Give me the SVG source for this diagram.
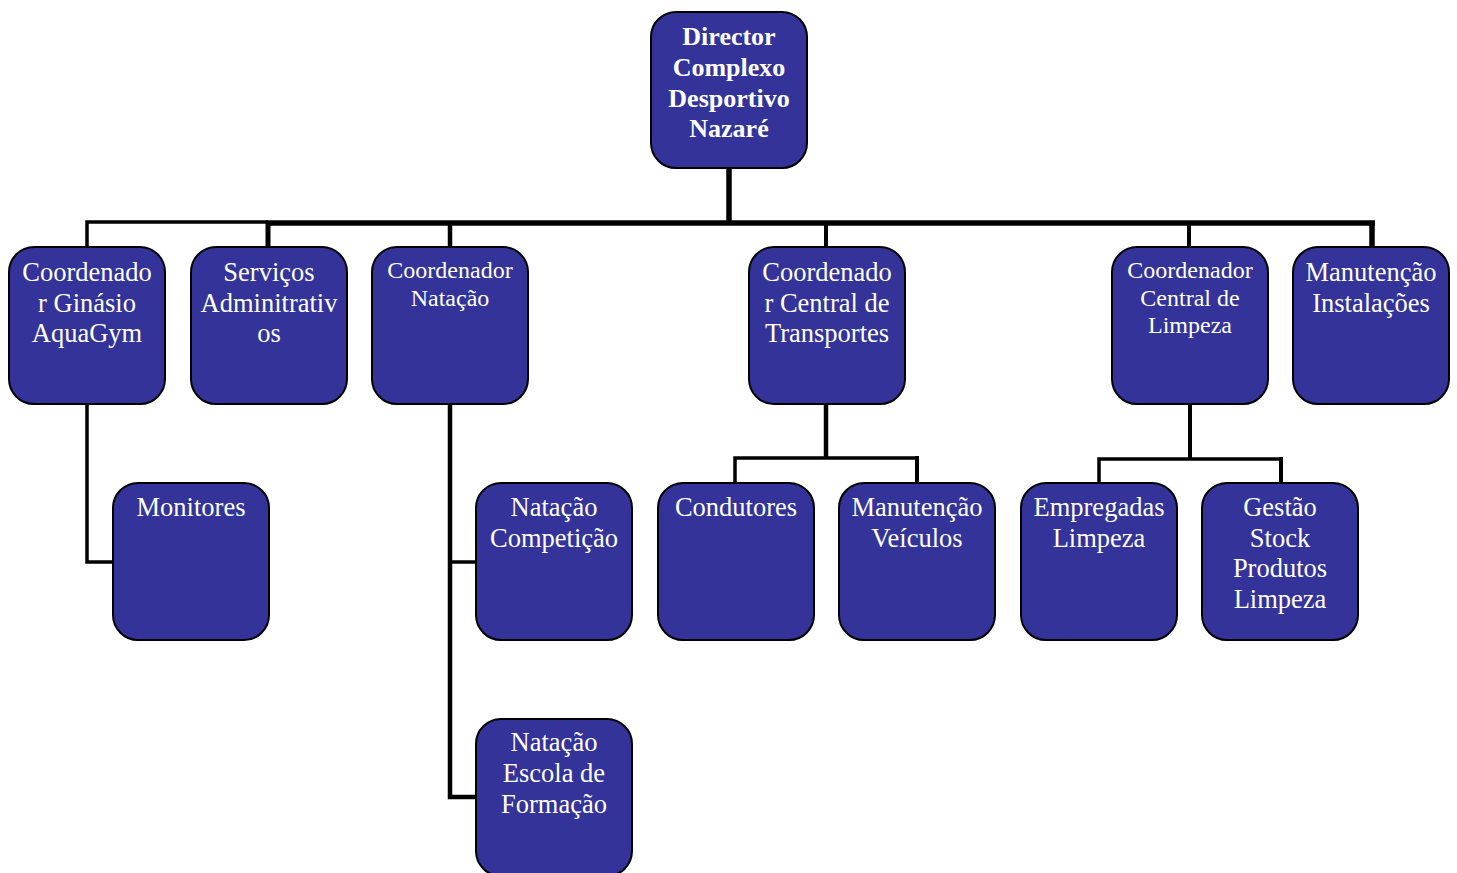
<svg xmlns="http://www.w3.org/2000/svg" width="1457" height="873" viewBox="0 0 1457 873">
<style>
.box{fill:#333399;stroke:#000;stroke-width:2}
.t{font-family:"Liberation Serif","Times New Roman",serif;font-size:26.5px;fill:#fff;text-anchor:middle}
.s{font-size:24px}
.b{font-weight:bold;font-size:26px}
.c{fill:none;stroke:#000;stroke-linejoin:miter;stroke-linecap:butt}
</style>
<rect width="1457" height="873" fill="#fff"/>
<g id="connectors">
<path class="c" stroke-width="5.5" d="M729 168 V223"/>
<path class="c" stroke-width="5.5" d="M266 223 H1375"/>
<path class="c" stroke-width="3.5" d="M87 247 V222 H268"/>
<path class="c" stroke-width="5" d="M268 223 V247"/>
<path class="c" stroke-width="4.5" d="M450 223 V247"/>
<path class="c" stroke-width="4" d="M826 223 V247"/>
<path class="c" stroke-width="4" d="M1189 223 V247"/>
<path class="c" stroke-width="5.5" d="M1372 221 V247"/>
<path class="c" stroke-width="3.5" d="M87 404 V562 H113"/>
<path class="c" stroke-width="4.5" d="M450 404 V797 H476"/>
<path class="c" stroke-width="3.5" d="M450 562 H476"/>
<path class="c" stroke-width="4.5" d="M826 404 V458"/>
<path class="c" stroke-width="3.5" d="M735 483 V458 H917"/>
<path class="c" stroke-width="4" d="M917 456 V483"/>
<path class="c" stroke-width="4" d="M1190 404 V459"/>
<path class="c" stroke-width="3.5" d="M1099 483 V459 H1281"/>
<path class="c" stroke-width="4" d="M1281 457 V483"/>
</g>
<g id="director">
<rect class="box" x="651" y="12" width="156" height="156" rx="25"/>
<text class="t b" x="729" y="45">Director</text>
<text class="t b" x="729" y="76">Complexo</text>
<text class="t b" x="729" y="106.5">Desportivo</text>
<text class="t b" x="729" y="137">Nazaré</text>
</g>
<g id="ginasio">
<rect class="box" x="9" y="247" width="156" height="157" rx="25"/>
<text class="t" x="87" y="281">Coordenado</text>
<text class="t" x="87" y="311.5">r Ginásio</text>
<text class="t" x="87" y="342">AquaGym</text>
</g>
<g id="servicos">
<rect class="box" x="191" y="247" width="156" height="157" rx="25"/>
<text class="t" x="269" y="281">Serviços</text>
<text class="t" x="269" y="311.5">Adminitrativ</text>
<text class="t" x="269" y="342">os</text>
</g>
<g id="natacao">
<rect class="box" x="372" y="247" width="156" height="157" rx="25"/>
<text class="t s" x="450" y="278">Coordenador</text>
<text class="t s" x="450" y="306">Natação</text>
</g>
<g id="transportes">
<rect class="box" x="749" y="247" width="156" height="157" rx="25"/>
<text class="t" x="827" y="281">Coordenado</text>
<text class="t" x="827" y="311.5">r Central de</text>
<text class="t" x="827" y="342">Transportes</text>
</g>
<g id="limpeza">
<rect class="box" x="1112" y="247" width="156" height="157" rx="25"/>
<text class="t s" x="1190" y="278">Coordenador</text>
<text class="t s" x="1190" y="305.5">Central de</text>
<text class="t s" x="1190" y="333">Limpeza</text>
</g>
<g id="manutencao">
<rect class="box" x="1293" y="247" width="156" height="157" rx="25"/>
<text class="t" x="1371" y="281">Manutenção</text>
<text class="t" x="1371" y="311.5">Instalações</text>
</g>
<g id="monitores">
<rect class="box" x="113" y="483" width="156" height="157" rx="25"/>
<text class="t" x="191" y="516">Monitores</text>
</g>
<g id="competicao">
<rect class="box" x="476" y="483" width="156" height="157" rx="25"/>
<text class="t" x="554" y="516">Natação</text>
<text class="t" x="554" y="546.5">Competição</text>
</g>
<g id="escola">
<rect class="box" x="476" y="719" width="156" height="157" rx="25"/>
<text class="t" x="554" y="751">Natação</text>
<text class="t" x="554" y="782">Escola de</text>
<text class="t" x="554" y="812.5">Formação</text>
</g>
<g id="condutores">
<rect class="box" x="658" y="483" width="156" height="157" rx="25"/>
<text class="t" x="736" y="516">Condutores</text>
</g>
<g id="veiculos">
<rect class="box" x="839" y="483" width="156" height="157" rx="25"/>
<text class="t" x="917" y="516">Manutenção</text>
<text class="t" x="917" y="546.5">Veículos</text>
</g>
<g id="empregadas">
<rect class="box" x="1021" y="483" width="156" height="157" rx="25"/>
<text class="t" x="1099" y="516">Empregadas</text>
<text class="t" x="1099" y="546.5">Limpeza</text>
</g>
<g id="gestao">
<rect class="box" x="1202" y="483" width="156" height="157" rx="25"/>
<text class="t" x="1280" y="516">Gestão</text>
<text class="t" x="1280" y="546.5">Stock</text>
<text class="t" x="1280" y="577">Produtos</text>
<text class="t" x="1280" y="608">Limpeza</text>
</g>
</svg>
